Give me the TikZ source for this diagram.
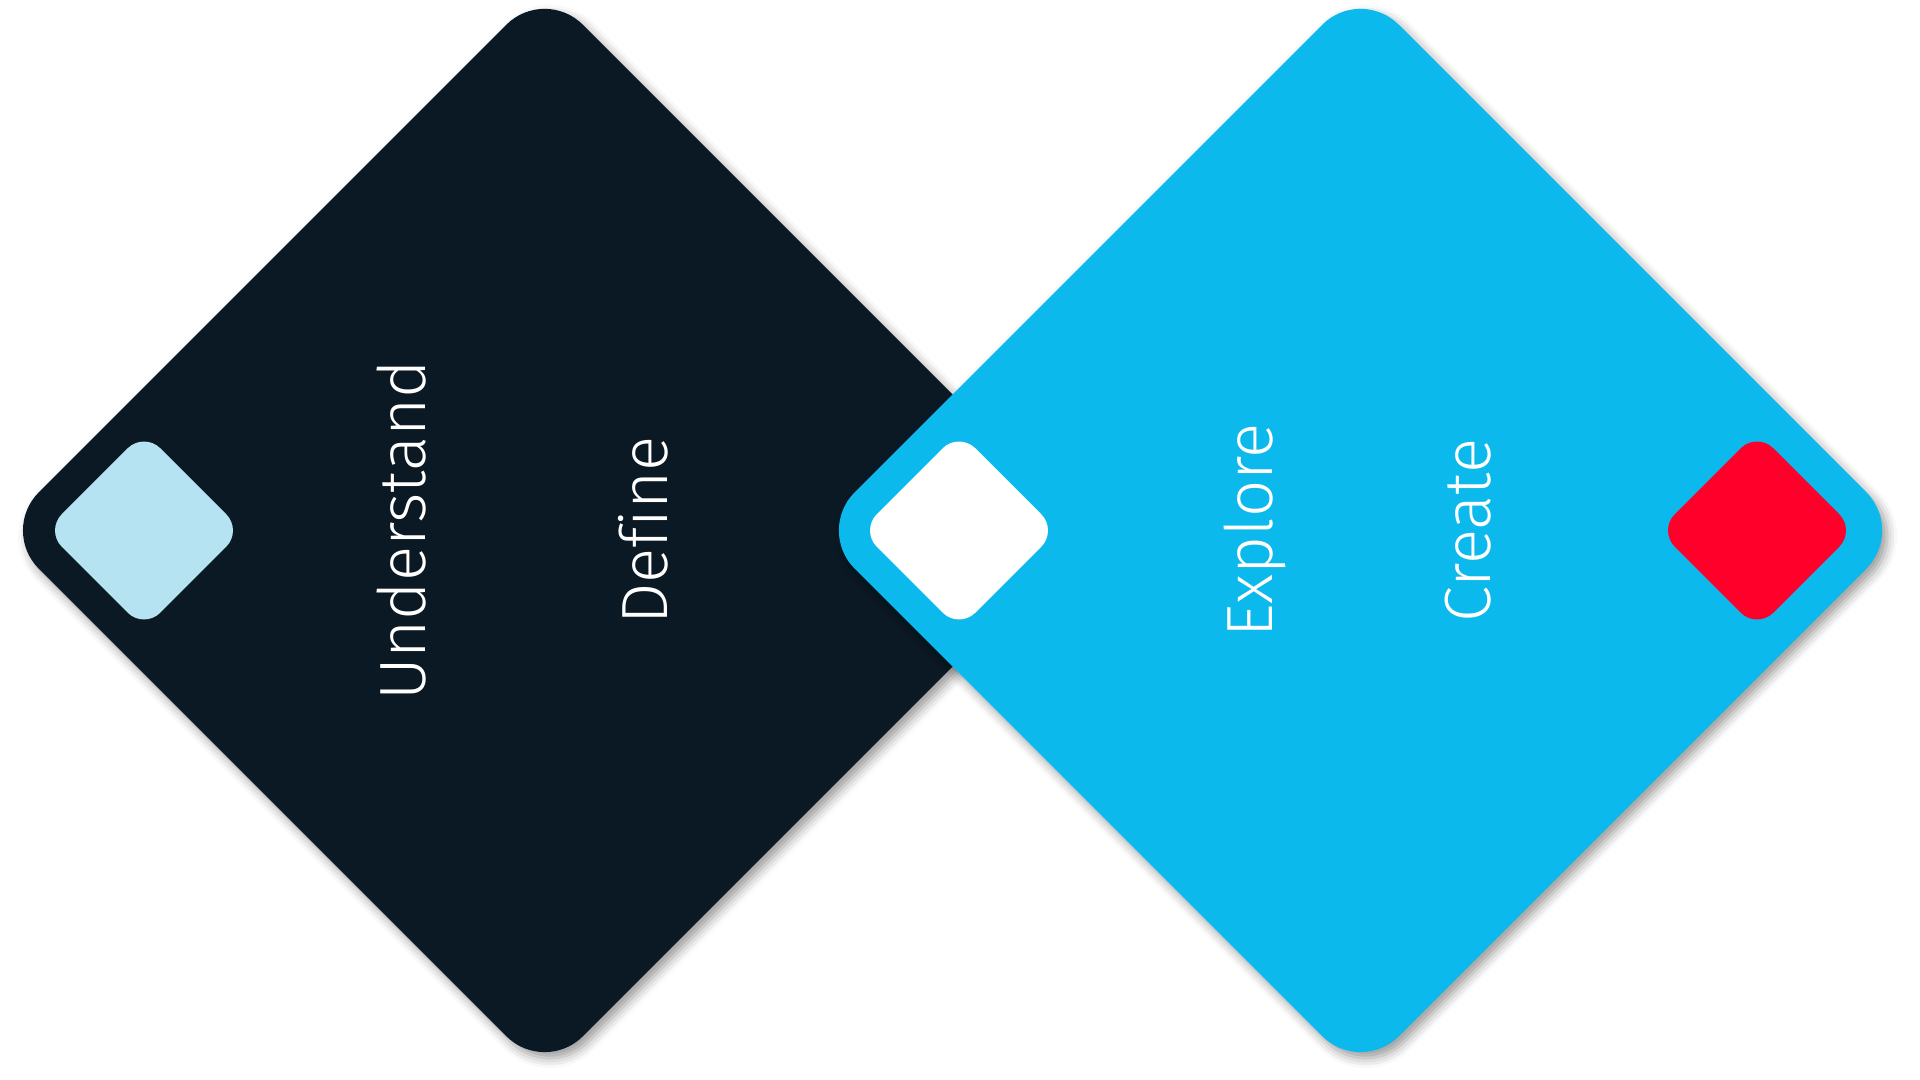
\documentclass[tikz,border=0pt]{standalone}
\usepackage{fontspec}
\setmainfont{Fira Sans Light}[Ligatures=NoCommon]
\usetikzlibrary{shapes.geometric}
\usetikzlibrary{shadows.blur}

\definecolor{navy}{HTML}{0A1923}
\definecolor{sky}{HTML}{0CB9ED}
\definecolor{pale}{HTML}{B5E3F2}
\definecolor{alert}{HTML}{FF002B}

\begin{document}
\begin{tikzpicture}[font=\fontsize{18.6}{22}\selectfont,
  big/.style={diamond,aspect=1,inner sep=0pt,outer sep=0pt,minimum size=10.88cm,rounded corners=0.54cm,
    blur shadow={shadow xshift=0.05cm,shadow yshift=-0.06cm,shadow blur radius=0.1cm,shadow opacity=40}},
  small/.style={diamond,aspect=1,inner sep=0pt,outer sep=0pt,minimum size=1.97cm,rounded corners=0.23cm},
  word/.style={text=white,rotate=90,anchor=base}]

\useasboundingbox (0,0) rectangle (19.2,10.8);

\def\ay{5.495}
\def\ax{5.446} \def\bx{13.605}
\def\cx{1.44} \def\dx{9.59} \def\ex{17.57}

\node [big,fill=navy] (left) at (\ax,\ay) {};
\node [big,fill=sky] (right) at (\bx,\ay) {};

\node [small,fill=pale] (left_gem) at (\cx,\ay) {};
\node [small,fill=white] (mid_gem) at (\dx,\ay) {};
\node [small,fill=alert] (right_gem) at (\ex,\ay) {};

\node [word] (understand) at (4.25,\ay) {Understand};
\node [word] (define) at (6.67,\ay) {Define};
\node [word] (explore) at (12.72,\ay) {Explore};
\node [word] (create) at (14.90,\ay) {Create};
\end{tikzpicture}
\end{document}
